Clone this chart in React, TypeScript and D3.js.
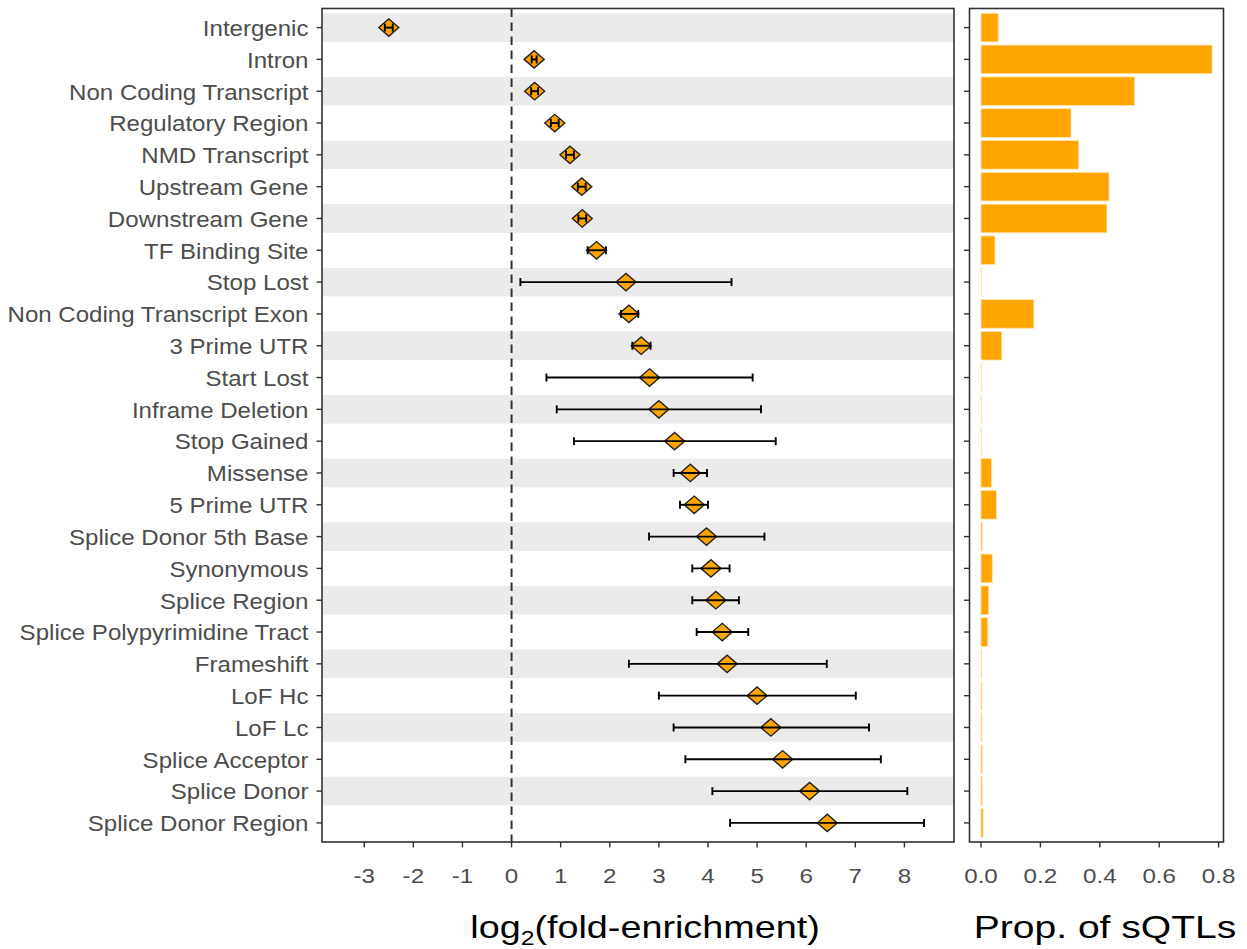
import React from "react";
import * as d3 from "d3";

const categories = [
  "Intergenic", "Intron", "Non Coding Transcript", "Regulatory Region", "NMD Transcript",
  "Upstream Gene", "Downstream Gene", "TF Binding Site", "Stop Lost", "Non Coding Transcript Exon",
  "3 Prime UTR", "Start Lost", "Inframe Deletion", "Stop Gained", "Missense", "5 Prime UTR",
  "Splice Donor 5th Base", "Synonymous", "Splice Region", "Splice Polypyrimidine Tract",
  "Frameshift", "LoF Hc", "LoF Lc", "Splice Acceptor", "Splice Donor", "Splice Donor Region",
];
const log2FE = [-2.5, 0.46, 0.47, 0.88, 1.19, 1.43, 1.44, 1.73, 2.33, 2.39, 2.64, 2.81, 3.0, 3.32, 3.64, 3.72, 3.97, 4.06, 4.16, 4.29, 4.39, 5.0, 5.28, 5.52, 6.07, 6.43];
const lowerCI = [-2.58, 0.41, 0.4, 0.8, 1.11, 1.35, 1.36, 1.55, 0.18, 2.23, 2.46, 0.71, 0.92, 1.27, 3.3, 3.43, 2.8, 3.68, 3.68, 3.77, 2.39, 3.0, 3.3, 3.54, 4.09, 4.45];
const upperCI = [-2.42, 0.51, 0.54, 0.96, 1.27, 1.51, 1.52, 1.92, 4.48, 2.58, 2.83, 4.91, 5.08, 5.38, 3.98, 4.0, 5.15, 4.44, 4.63, 4.82, 6.42, 7.01, 7.28, 7.52, 8.06, 8.4];
const propSQTL = [0.058, 0.778, 0.517, 0.303, 0.329, 0.431, 0.424, 0.047, 0.001, 0.178, 0.07, 0.001, 0.001, 0.001, 0.035, 0.052, 0.004, 0.038, 0.026, 0.023, 0.002, 0.003, 0.003, 0.004, 0.004, 0.007];
const leftTicks = [-3, -2, -1, 0, 1, 2, 3, 4, 5, 6, 7, 8];
const rightTicks = [0, 0.2, 0.4, 0.6, 0.8];

const W = 1247, H = 949;
const FONT = "'Liberation Sans', Arial, Helvetica, sans-serif";
const ORANGE = "#FFA500";
const AXIS = "#333333";
const TXT = "#4D4D4D";

const top = 8.5, bottom = 842;
const L = { x0: 322, x1: 954 };
const R = { x0: 969.5, x1: 1223.5 };

function SText(props: any) {
  const { x, y, size, anchor, fill, sx, children } = props;
  return (
    <g transform={`translate(${x},${y}) scale(${sx},1)`}>
      <text fontFamily={FONT} fontSize={size} textAnchor={anchor} fill={fill}>{children}</text>
    </g>
  );
}

export default function App() {
  const y = d3.scalePoint<string>().domain(categories).range([top, bottom]).padding(0.6);
  const step = y.step();
  const xL = d3.scaleLinear().domain([-3.86, 9.01]).range([L.x0, L.x1]);
  const xR = d3.scaleLinear().domain([-0.0387, 0.8165]).range([R.x0, R.x1]);
  const bandH = step * 0.9;
  const dw = 10, dh = 8.7, cap = 4;

  return (
    <svg width={W} height={H} style={{ position: "absolute", left: 0, top: 0, background: "#fff" }}>
      {categories.map((c, i) =>
        i % 2 === 0 ? (
          <rect key={"b" + i} x={L.x0} width={L.x1 - L.x0} y={(y(c) as number) - bandH / 2} height={bandH} fill="#EBEBEB" />
        ) : null
      )}
      <line x1={xL(0)} x2={xL(0)} y1={top} y2={bottom} stroke={AXIS} strokeWidth={2} strokeDasharray="8.5,5.5" />
      {categories.map((c, i) => {
        const cx = xL(log2FE[i]);
        const cy = y(c) as number;
        return (
          <path key={"d" + i} d={`M${cx - dw},${cy}L${cx},${cy - dh}L${cx + dw},${cy}L${cx},${cy + dh}Z`} fill={ORANGE} stroke="#222" strokeWidth={1.4} />
        );
      })}
      {categories.map((c, i) => {
        const cy = y(c) as number;
        const a = xL(lowerCI[i]), b = xL(upperCI[i]);
        return (
          <g key={"e" + i} stroke="#000" strokeWidth={1.9}>
            <line x1={a} x2={b} y1={cy} y2={cy} />
            <line x1={a} x2={a} y1={cy - cap} y2={cy + cap} />
            <line x1={b} x2={b} y1={cy - cap} y2={cy + cap} />
          </g>
        );
      })}
      <rect x={L.x0} y={top} width={L.x1 - L.x0} height={bottom - top} fill="none" stroke={AXIS} strokeWidth={1.6} />
      {categories.map((c) => {
        const cy = y(c) as number;
        return (
          <g key={"yl" + c}>
            <line x1={L.x0 - 5.5} x2={L.x0} y1={cy} y2={cy} stroke={AXIS} strokeWidth={1.4} />
            <SText x={308.5} y={cy + 8.3} size={21.5} anchor="end" fill={TXT} sx={1.12}>{c}</SText>
          </g>
        );
      })}
      {leftTicks.map((t) => (
        <g key={"xl" + t}>
          <line x1={xL(t)} x2={xL(t)} y1={bottom} y2={bottom + 5.5} stroke={AXIS} strokeWidth={1.4} />
          <SText x={xL(t)} y={883} size={21} anchor="middle" fill={TXT} sx={1.15}>{String(t)}</SText>
        </g>
      ))}
      <g transform={`translate(645,938) scale(1.18,1)`}>
        <text fontFamily={FONT} fontSize={32} textAnchor="middle" fill="#000">
          log<tspan fontSize={21} dy={7}>2</tspan><tspan dy={-7}>(fold-enrichment)</tspan>
        </text>
      </g>

      {categories.map((c, i) => {
        const cy = y(c) as number;
        return (
          <rect key={"r" + i} x={xR(0)} width={Math.max(0, xR(propSQTL[i]) - xR(0))} y={cy - bandH / 2} height={bandH} fill={ORANGE} stroke="#FFE3B0" strokeWidth={0.8} />
        );
      })}
      <rect x={R.x0} y={top} width={R.x1 - R.x0} height={bottom - top} fill="none" stroke={AXIS} strokeWidth={1.6} />
      {categories.map((c) => {
        const cy = y(c) as number;
        return <line key={"yr" + c} x1={R.x0 - 5.5} x2={R.x0} y1={cy} y2={cy} stroke={AXIS} strokeWidth={1.4} />;
      })}
      {rightTicks.map((t) => (
        <g key={"xr" + t}>
          <line x1={xR(t)} x2={xR(t)} y1={bottom} y2={bottom + 5.5} stroke={AXIS} strokeWidth={1.4} />
          <SText x={xR(t)} y={883} size={21} anchor="middle" fill={TXT} sx={1.15}>{d3.format(".1f")(t)}</SText>
        </g>
      ))}
      <SText x={1105} y={938} size={32} anchor="middle" fill="#000" sx={1.22}>Prop. of sQTLs</SText>
    </svg>
  );
}
